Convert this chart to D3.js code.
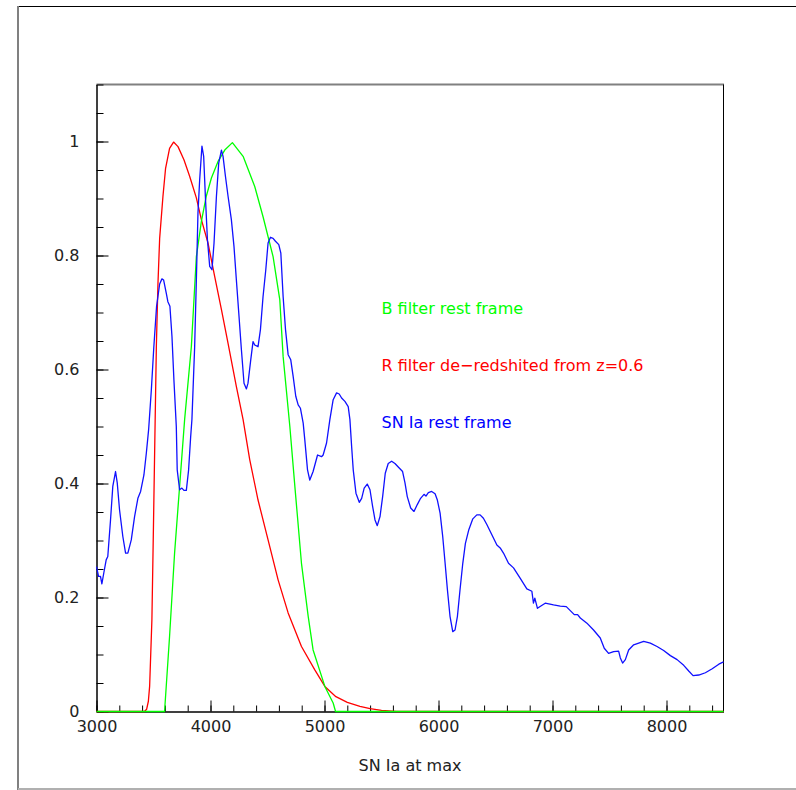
<!DOCTYPE html>
<html>
<head>
<meta charset="utf-8">
<script src="https://cdn.jsdelivr.net/npm/d3@7"></script>
<style>
html,body{margin:0;padding:0;background:#fff;}
svg{display:block;}
text{font-family:"DejaVu Sans",sans-serif;}
</style>
</head>
<body>
<svg id="chart" width="796" height="790"></svg>
<script>
// ---- data ----
const snWave = [3000,3018,3035,3047,3064,3085,3099,3123,3143,3167,3182,3202,3231,3255,3275,3305,3334,3363,3387,3416,3437,3457,3481,3503,3527,3554,3574,3589,3612,3626,3644,3662,3679,3700,3708,3729,3749,3767,3788,3808,3826,3837,3861,3876,3890,3905,3925,3940,3955,3973,3993,4013,4031,4052,4072,4096,4110,4131,4154,4183,4206,4227,4248,4271,4294,4315,4329,4353,4373,4388,4417,4438,4461,4485,4505,4526,4549,4570,4599,4617,4637,4658,4681,4704,4725,4748,4769,4789,4813,4827,4851,4871,4900,4939,4974,4988,5018,5047,5076,5106,5129,5150,5179,5208,5223,5238,5252,5276,5305,5326,5348,5375,5399,5422,5443,5463,5487,5510,5533,5559,5589,5618,5647,5685,5706,5726,5756,5785,5814,5843,5873,5890,5911,5940,5970,5990,6014,6037,6058,6078,6101,6125,6145,6166,6189,6213,6236,6266,6301,6336,6365,6394,6424,6468,6512,6541,6570,6614,6658,6716,6775,6819,6833,6845,6868,6898,6936,7009,7068,7121,7156,7191,7220,7244,7302,7360,7419,7454,7492,7536,7580,7595,7615,7639,7668,7712,7756,7800,7858,7917,7975,8034,8093,8151,8195,8233,8283,8341,8401,8459,8500];
const snFlux = [0.254,0.237,0.237,0.224,0.243,0.266,0.272,0.336,0.395,0.421,0.401,0.354,0.307,0.278,0.278,0.301,0.342,0.374,0.386,0.415,0.453,0.494,0.564,0.640,0.711,0.750,0.759,0.757,0.734,0.719,0.711,0.658,0.582,0.500,0.424,0.389,0.392,0.388,0.388,0.424,0.482,0.512,0.640,0.757,0.874,0.933,0.992,0.974,0.904,0.828,0.781,0.775,0.822,0.904,0.962,0.985,0.974,0.939,0.904,0.863,0.816,0.757,0.699,0.635,0.576,0.566,0.576,0.617,0.649,0.643,0.640,0.670,0.728,0.775,0.822,0.832,0.830,0.825,0.819,0.804,0.728,0.670,0.626,0.617,0.588,0.553,0.538,0.532,0.506,0.477,0.424,0.406,0.421,0.450,0.447,0.450,0.471,0.512,0.547,0.559,0.557,0.550,0.544,0.535,0.512,0.465,0.424,0.383,0.367,0.374,0.392,0.399,0.389,0.360,0.336,0.326,0.342,0.377,0.418,0.435,0.439,0.435,0.429,0.421,0.401,0.377,0.357,0.351,0.363,0.374,0.381,0.378,0.384,0.386,0.382,0.371,0.348,0.307,0.260,0.214,0.167,0.140,0.143,0.167,0.214,0.260,0.295,0.319,0.338,0.345,0.345,0.339,0.328,0.310,0.292,0.287,0.278,0.260,0.252,0.234,0.215,0.211,0.190,0.199,0.181,0.185,0.190,0.187,0.185,0.184,0.177,0.170,0.170,0.164,0.155,0.143,0.129,0.111,0.102,0.105,0.106,0.094,0.085,0.091,0.108,0.117,0.120,0.123,0.120,0.114,0.107,0.098,0.091,0.081,0.071,0.063,0.064,0.068,0.075,0.083,0.087];

const bWave  = [3000,3597,3641,3685,3729,3773,3832,3876,3920,3963,4008,4066,4125,4192,4286,4388,4461,4549,4608,4637,4696,4740,4798,4857,4900,5003,5076,5097,8500];
const bTrans = [0,0,0.132,0.278,0.395,0.512,0.640,0.798,0.860,0.904,0.936,0.965,0.985,0.998,0.974,0.921,0.868,0.798,0.722,0.623,0.500,0.395,0.260,0.167,0.108,0.044,0.015,0,0];

const rWave  = [3000,3420,3440,3455,3466,3486,3500,3512,3525,3539,3554,3583,3606,3641,3676,3715,3767,3817,3876,3920,3978,4037,4096,4154,4227,4286,4344,4417,4505,4593,4681,4798,4915,5003,5100,5200,5311,5400,5500,5630,8500];
const rTrans = [0,0,0.004,0.018,0.044,0.161,0.33,0.48,0.64,0.75,0.83,0.904,0.953,0.988,0.999,0.991,0.968,0.939,0.901,0.863,0.822,0.763,0.705,0.646,0.570,0.512,0.442,0.371,0.301,0.231,0.173,0.114,0.073,0.044,0.026,0.016,0.009,0.005,0.002,0,0];

const xMajor = [3000,4000,5000,6000,7000,8000];
const xMinor = d3.range(3000, 8501, 200);
const yMajor = [0,0.2,0.4,0.6,0.8,1];
const yMinor = d3.range(0, 1.1001, 0.05);

const labels = [
  {text:"B filter rest frame", color:"#00ff00", wl:5500, v:0.697},
  {text:"R filter de\u2212redshited from z=0.6", color:"#ff0000", wl:5500, v:0.598},
  {text:"SN Ia rest frame", color:"#0000ff", wl:5500, v:0.497}
];
const xTitle = "SN Ia at max";

// ---- chart ----
const svg = d3.select("#chart");
svg.append("rect").attr("width",796).attr("height",790).attr("fill","#fff");

// canvas border
svg.append("line").attr("x1",18).attr("x2",796).attr("y1",6.5).attr("y2",6.5).attr("stroke","#000").attr("stroke-width",1);
svg.append("line").attr("x1",18).attr("x2",18).attr("y1",6).attr("y2",790).attr("stroke","#808080").attr("stroke-width",2);
svg.append("line").attr("x1",18).attr("x2",796).attr("y1",789).attr("y2",789).attr("stroke","#b0b0b0").attr("stroke-width",2);

const x = d3.scaleLinear().domain([3000,8500]).range([96.5,723.5]);
const y = d3.scaleLinear().domain([0,1.1]).range([711.5,84.5]);

// frame top/right
svg.append("line").attr("x1",x(3000)).attr("x2",x(8500)+0.5).attr("y1",y(1.1)).attr("y2",y(1.1)).attr("stroke","#808080").attr("stroke-width",2);
svg.append("line").attr("x1",x(8500)).attr("x2",x(8500)).attr("y1",y(1.1)).attr("y2",y(0)).attr("stroke","#000").attr("stroke-width",1);

// x axis
const gxMin = svg.append("g").attr("transform",`translate(0,${y(0)})`)
  .call(d3.axisBottom(x).tickValues(xMinor).tickSize(-6).tickSizeOuter(0).tickFormat(""));
const gxMaj = svg.append("g").attr("transform",`translate(0,${y(0)})`)
  .call(d3.axisBottom(x).tickValues(xMajor).tickSize(-11).tickSizeOuter(0).tickPadding(9).tickFormat(d3.format("d")));
// y axis
const gyMin = svg.append("g").attr("transform",`translate(${x(3000)},0)`)
  .call(d3.axisLeft(y).tickValues(yMinor).tickSize(-7).tickSizeOuter(0).tickFormat(""));
const gyMaj = svg.append("g").attr("transform",`translate(${x(3000)},0)`)
  .call(d3.axisLeft(y).tickValues(yMajor).tickSize(-12).tickSizeOuter(0).tickPadding(17).tickFormat(d => d3.format("")(+d.toFixed(1))));
[gxMin,gxMaj,gyMin,gyMaj].forEach(g=>{
  g.selectAll("path.domain").attr("stroke","#000").attr("stroke-width",1);
  g.selectAll(".tick line").attr("stroke","#000").attr("stroke-width",1);
  g.selectAll(".tick text").attr("font-family","DejaVu Sans").attr("font-size",16).attr("fill","#222");
});

// curves
const line = d3.line().x(d=>x(d[0])).y(d=>y(d[1]));
const series = [
  {wave:rWave, val:rTrans, color:"#ff0000"},
  {wave:bWave, val:bTrans, color:"#00ff00"},
  {wave:snWave, val:snFlux, color:"#1010ff"}
];
series.forEach(s=>{
  svg.append("path")
    .datum(s.wave.map((w,i)=>[w,s.val[i]]))
    .attr("d",line).attr("fill","none")
    .attr("stroke",s.color).attr("stroke-width",1.3)
    .attr("stroke-linejoin","round");
});

// labels
labels.forEach(l=>{
  svg.append("text").attr("x",x(l.wl)).attr("y",y(l.v))
    .attr("font-size",16).attr("fill",l.color).text(l.text);
});
svg.append("text").attr("x",x(5750)).attr("y",770.5).attr("text-anchor","middle")
  .attr("font-size",16).attr("fill","#222").text(xTitle);
</script>
</body>
</html>
